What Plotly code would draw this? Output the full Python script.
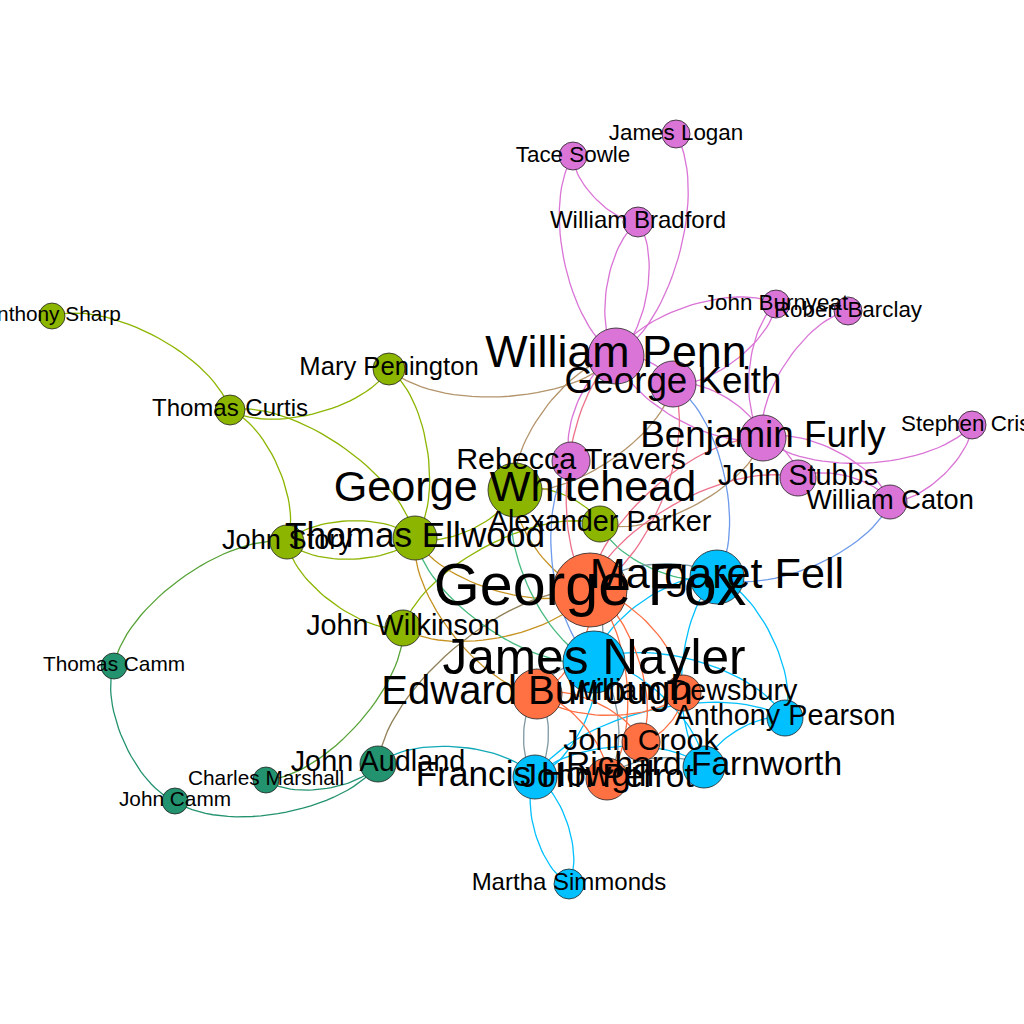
import numpy as np
import plotly.graph_objects as go

# nodes: name, community, layout position (x, y measured from top-left), weight
names = [
    "George Fox", "Edward Burrough", "William Dewsbury", "John Crook", "John Perrot",
    "Margaret Fell", "James Nayler", "Francis Howgill", "Richard Farnworth",
    "Anthony Pearson", "Martha Simmonds",
    "William Penn", "George Keith", "Benjamin Furly", "Rebecca Travers", "John Stubbs",
    "William Caton", "Stephen Crisp", "John Burnyeat", "Robert Barclay",
    "William Bradford", "Tace Sowle", "James Logan",
    "George Whitehead", "Thomas Ellwood", "Alexander Parker", "John Story",
    "John Wilkinson", "Thomas Curtis", "Mary Penington", "Anthony Sharp",
    "Thomas Camm", "Charles Marshall", "John Camm", "John Audland",
]
community = [
    0, 0, 0, 0, 0,
    1, 1, 1, 1, 1, 1,
    2, 2, 2, 2, 2, 2, 2, 2, 2, 2, 2, 2,
    3, 3, 3, 3, 3, 3, 3, 3,
    4, 4, 4, 4,
]
pos_x = [
    590, 537, 683, 641, 607,
    717, 594, 535, 704, 785, 569,
    616, 673, 763, 571, 798, 890, 972, 776, 848, 638, 573, 676,
    515, 415, 600, 287, 403, 230, 389, 52,
    114, 266, 175, 378,
]
pos_y = [
    590, 694, 693, 742, 779,
    577, 662, 777, 767, 718, 884,
    356, 384, 438, 461, 478, 502, 425, 304, 311, 222, 156, 134,
    490, 538, 524, 542, 628, 410, 369, 316,
    666, 780, 801, 764,
]
weight = [
    37, 25, 18, 19, 21,
    27, 31, 22, 21, 18, 15,
    28, 23, 23, 19, 18, 17, 14, 14, 14, 15, 14, 14,
    27, 22, 18, 17, 18, 15, 16, 13,
    13, 13, 13, 18,
]

edges = [
    ("Anthony Sharp", "Thomas Curtis"),
    ("Mary Penington", "Thomas Curtis"),
    ("Thomas Curtis", "John Story"),
    ("Thomas Curtis", "Thomas Ellwood"),
    ("Mary Penington", "Thomas Ellwood"),
    ("William Penn", "Mary Penington"),
    ("John Story", "Thomas Ellwood"),
    ("Thomas Ellwood", "John Story"),
    ("John Wilkinson", "John Story"),
    ("Thomas Camm", "John Story"),
    ("John Camm", "Thomas Camm"),
    ("John Audland", "John Camm"),
    ("John Audland", "Charles Marshall"),
    ("John Wilkinson", "Charles Marshall"),
    ("John Audland", "Francis Howgill"),
    ("John Audland", "George Fox"),
    ("George Fox", "John Wilkinson"),
    ("John Wilkinson", "Alexander Parker"),
    ("George Fox", "Thomas Ellwood"),
    ("Edward Burrough", "Thomas Ellwood"),
    ("James Nayler", "Thomas Ellwood"),
    ("James Nayler", "George Whitehead"),
    ("Margaret Fell", "Alexander Parker"),
    ("George Whitehead", "Thomas Ellwood"),
    ("George Whitehead", "Alexander Parker"),
    ("George Fox", "George Whitehead"),
    ("George Whitehead", "William Penn"),
    ("George Keith", "George Whitehead"),
    ("Benjamin Furly", "Alexander Parker"),
    ("Rebecca Travers", "William Penn"),
    ("George Fox", "William Penn"),
    ("George Keith", "George Fox"),
    ("George Fox", "Benjamin Furly"),
    ("George Fox", "John Stubbs"),
    ("George Keith", "Margaret Fell"),
    ("James Nayler", "Rebecca Travers"),
    ("William Caton", "Margaret Fell"),
    ("Stephen Crisp", "Benjamin Furly"),
    ("Stephen Crisp", "William Caton"),
    ("Benjamin Furly", "William Caton"),
    ("John Stubbs", "William Caton"),
    ("Benjamin Furly", "John Stubbs"),
    ("Benjamin Furly", "John Burnyeat"),
    ("Benjamin Furly", "Robert Barclay"),
    ("William Penn", "John Burnyeat"),
    ("John Burnyeat", "George Keith"),
    ("Benjamin Furly", "William Penn"),
    ("George Keith", "Benjamin Furly"),
    ("William Penn", "George Keith"),
    ("William Bradford", "Tace Sowle"),
    ("William Penn", "Tace Sowle"),
    ("James Logan", "William Penn"),
    ("William Bradford", "William Penn"),
    ("William Penn", "William Bradford"),
    ("George Fox", "Margaret Fell"),
    ("George Fox", "James Nayler"),
    ("James Nayler", "Margaret Fell"),
    ("Margaret Fell", "Anthony Pearson"),
    ("Richard Farnworth", "Margaret Fell"),
    ("James Nayler", "Anthony Pearson"),
    ("George Fox", "Edward Burrough"),
    ("George Fox", "William Dewsbury"),
    ("George Fox", "John Crook"),
    ("George Fox", "John Perrot"),
    ("William Dewsbury", "Edward Burrough"),
    ("Edward Burrough", "John Crook"),
    ("Edward Burrough", "John Perrot"),
    ("Edward Burrough", "Francis Howgill"),
    ("Francis Howgill", "Edward Burrough"),
    ("William Dewsbury", "John Crook"),
    ("James Nayler", "Francis Howgill"),
    ("James Nayler", "Richard Farnworth"),
    ("James Nayler", "John Perrot"),
    ("Francis Howgill", "Richard Farnworth"),
    ("Francis Howgill", "Anthony Pearson"),
    ("John Perrot", "Richard Farnworth"),
    ("Martha Simmonds", "Francis Howgill"),
    ("Francis Howgill", "Martha Simmonds"),
    ("Richard Farnworth", "Anthony Pearson"),
    ("Edward Burrough", "James Nayler"),
]

palette = [(255, 112, 67), (0, 192, 255), (218, 116, 214), (140, 181, 0), (35, 146, 111)]

idx = {n: i for i, n in enumerate(names)}


def bezier(x1, y1, x2, y2, steps=30):
    # gephi-style curved edge: control points pushed to the left of travel
    dx, dy = x2 - x1, y2 - y1
    length = np.hypot(dx, dy)
    ux, uy = dx / length, dy / length
    f = 0.2 * length
    nx, ny = uy * f, -ux * f
    c1x, c1y = x1 + ux * f + nx, y1 + uy * f + ny
    c2x, c2y = x2 - ux * f + nx, y2 - uy * f + ny
    t = np.linspace(0, 1, steps)
    a, b, c, d = (1 - t) ** 3, 3 * (1 - t) ** 2 * t, 3 * (1 - t) * t ** 2, t ** 3
    return a * x1 + b * c1x + c * c2x + d * x2, a * y1 + b * c1y + c * c2y + d * y2


def mix(c1, c2):
    return "rgb(%d,%d,%d)" % tuple((a + b) // 2 for a, b in zip(c1, c2))


edge_groups = {}
for src, dst in edges:
    i, j = idx[src], idx[dst]
    col = mix(palette[community[i]], palette[community[j]])
    ex, ey = bezier(pos_x[i], pos_y[i], pos_x[j], pos_y[j])
    gx, gy = edge_groups.setdefault(col, ([], []))
    gx.extend(list(ex) + [None])
    gy.extend(list(ey) + [None])

fig = go.Figure()
for col, (gx, gy) in edge_groups.items():
    fig.add_trace(go.Scatter(x=gx, y=gy, mode="lines",
                             line=dict(color=col, width=1.3), hoverinfo="skip"))

node_colors = ["rgb(%d,%d,%d)" % palette[c] for c in community]
fig.add_trace(go.Scatter(
    x=pos_x, y=pos_y, mode="markers",
    marker=dict(size=[2 * w for w in weight], color=node_colors,
                line=dict(color="#222222", width=0.8), opacity=1),
    hoverinfo="skip",
))
fig.add_trace(go.Scatter(
    x=pos_x, y=pos_y, mode="text", text=names, textposition="middle center",
    textfont=dict(family="Liberation Sans, Arial, sans-serif", color="black",
                  size=[1.6 * w for w in weight]),
    hoverinfo="skip",
))

fig.update_layout(
    width=1024, height=1024,
    margin=dict(l=0, r=0, t=0, b=0),
    paper_bgcolor="white", plot_bgcolor="white",
    showlegend=False,
    xaxis=dict(range=[0, 1024], visible=False, fixedrange=True),
    yaxis=dict(range=[1024, 0], visible=False, fixedrange=True),
)

fig.write_html("out.html", config={"displayModeBar": False},
               post_script="document.body.style.margin='0';")
